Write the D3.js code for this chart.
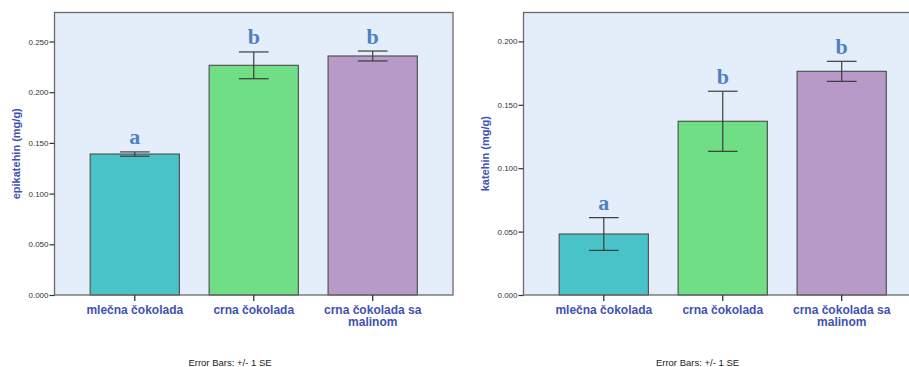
<!DOCTYPE html>
<html>
<head>
<meta charset="utf-8">
<script src="https://cdn.jsdelivr.net/npm/d3@7"></script>
<style>
  html, body { margin: 0; padding: 0; background: #fff; }
  svg { display: block; }
</style>
</head>
<body>
<svg id="chart" width="909" height="367"></svg>
<script>
// Chocolate types shown on both panels
const categories = ["mlečna čokolada", "crna čokolada", "crna čokolada sa malinom"];

// Epicatechin content (mg/g): means, standard errors, group letters
const epiMeans = [0.139, 0.2265, 0.2357];
const epiSE = [0.0021, 0.0132, 0.0049];
const epiLetters = ["a", "b", "b"];
const epiTicks = [0, 0.05, 0.1, 0.15, 0.2, 0.25];

// Catechin content (mg/g)
const catMeans = [0.0481, 0.137, 0.1764];
const catSE = [0.0129, 0.0237, 0.0079];
const catLetters = ["a", "b", "b"];
const catTicks = [0, 0.05, 0.1, 0.15, 0.2];

const barColors = ["#48c3c8", "#70de84", "#b79ac8"];

const svg = d3.select("#chart");

function drawPanel(opts) {
  const { left, right, top, bottom, yMax, means, se, letters, ticks, title, noteX } = opts;
  const g = svg.append("g");

  const x = d3.scaleBand().domain(categories).range([left, right])
    .paddingInner(0.25).paddingOuter(0.3);
  const y = d3.scaleLinear().domain([0, yMax]).range([bottom, top]);

  // plot background
  g.append("rect")
    .attr("x", left).attr("y", top)
    .attr("width", right - left).attr("height", bottom - top)
    .attr("fill", "#e3eefa");

  const rows = categories.map((c, i) => ({ c, m: means[i], s: se[i], l: letters[i], col: barColors[i] }));

  // bars
  g.selectAll("rect.bar").data(rows).join("rect")
    .attr("class", "bar")
    .attr("x", d => x(d.c))
    .attr("y", d => y(d.m))
    .attr("width", x.bandwidth())
    .attr("height", d => y(0) - y(d.m))
    .attr("fill", d => d.col)
    .attr("stroke", "#545454")
    .attr("stroke-width", 1.2);

  // error bars (+/- 1 SE)
  const cap = x.bandwidth() / 3;
  const eb = g.selectAll("g.err").data(rows).join("g").attr("class", "err")
    .attr("stroke", "#3c3c3c").attr("stroke-width", 1.2);
  eb.append("line")
    .attr("x1", d => x(d.c) + x.bandwidth() / 2).attr("x2", d => x(d.c) + x.bandwidth() / 2)
    .attr("y1", d => y(d.m + d.s)).attr("y2", d => y(d.m - d.s));
  eb.append("line")
    .attr("x1", d => x(d.c) + x.bandwidth() / 2 - cap / 2).attr("x2", d => x(d.c) + x.bandwidth() / 2 + cap / 2)
    .attr("y1", d => y(d.m + d.s)).attr("y2", d => y(d.m + d.s));
  eb.append("line")
    .attr("x1", d => x(d.c) + x.bandwidth() / 2 - cap / 2).attr("x2", d => x(d.c) + x.bandwidth() / 2 + cap / 2)
    .attr("y1", d => y(d.m - d.s)).attr("y2", d => y(d.m - d.s));

  // significance letters
  g.selectAll("text.letter").data(rows).join("text")
    .attr("class", "letter")
    .attr("x", d => x(d.c) + x.bandwidth() / 2)
    .attr("y", d => y(d.m + d.s) - 7.5)
    .attr("text-anchor", "middle")
    .attr("font-family", "'Liberation Serif', 'Times New Roman', serif")
    .attr("font-weight", "bold")
    .attr("font-size", 22)
    .attr("fill", "#4f80c2")
    .text(d => d.l);

  // plot frame
  g.append("rect")
    .attr("x", left).attr("y", top)
    .attr("width", right - left).attr("height", bottom - top)
    .attr("fill", "none")
    .attr("stroke", "#6a6a6a")
    .attr("stroke-width", 1.3);

  // y axis
  const yAxis = g.append("g")
    .attr("transform", `translate(${left},0)`)
    .call(d3.axisLeft(y).tickValues(ticks).tickFormat(d3.format(".3f")).tickSize(5).tickPadding(1));
  yAxis.select(".domain").remove();
  yAxis.selectAll(".tick line").attr("stroke", "#333").attr("stroke-width", 1.2);
  yAxis.selectAll(".tick text")
    .attr("font-family", "'Liberation Sans', Arial, sans-serif")
    .attr("font-size", 8)
    .attr("fill", "#333");

  // x axis
  const xAxis = g.append("g")
    .attr("transform", `translate(0,${bottom})`)
    .call(d3.axisBottom(x).tickSize(6).tickPadding(4));
  xAxis.select(".domain").remove();
  xAxis.selectAll(".tick line").attr("stroke", "#333").attr("stroke-width", 1.3);
  xAxis.selectAll(".tick text").remove();
  xAxis.selectAll(".tick").each(function (d) {
    const words = d.split(" ");
    const lines = d.length > 18 ? [words.slice(0, 3).join(" "), words.slice(3).join(" ")] : [d];
    const t = d3.select(this).append("text")
      .attr("text-anchor", "middle")
      .attr("font-family", "'Liberation Sans', Arial, sans-serif")
      .attr("font-weight", "bold")
      .attr("font-size", 12)
      .attr("fill", "#3f52b4");
    lines.forEach((ln, i) => t.append("tspan").attr("x", 0).attr("y", 19 + i * 12).text(ln));
  });

  // y axis title
  g.append("text")
    .attr("transform", `translate(${opts.titleX},${(top + bottom) / 2}) rotate(-90)`)
    .attr("text-anchor", "middle")
    .attr("font-family", "'Liberation Sans', Arial, sans-serif")
    .attr("font-weight", "bold")
    .attr("font-size", 11)
    .attr("fill", "#3f52b4")
    .text(title);

  // note under the chart
  g.append("text")
    .attr("x", noteX).attr("y", 366)
    .attr("text-anchor", "middle")
    .attr("font-family", "'Liberation Sans', Arial, sans-serif")
    .attr("font-size", 9.5)
    .attr("fill", "#222")
    .text("Error Bars: +/- 1 SE");
}

drawPanel({
  left: 54.5, right: 453, top: 12.5, bottom: 295, yMax: 0.2786,
  means: epiMeans, se: epiSE, letters: epiLetters, ticks: epiTicks,
  title: "epikatehin (mg/g)", titleX: 20, noteX: 230
});

drawPanel({
  left: 523.5, right: 922, top: 12.5, bottom: 295, yMax: 0.2228,
  means: catMeans, se: catSE, letters: catLetters, ticks: catTicks,
  title: "katehin (mg/g)", titleX: 489, noteX: 697.5
});
</script>
</body>
</html>
